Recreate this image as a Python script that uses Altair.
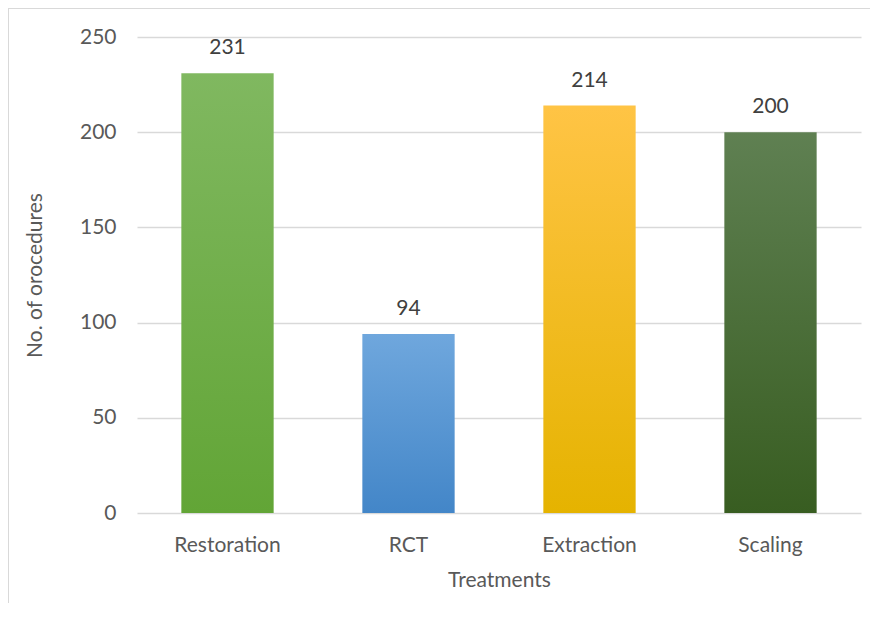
import altair as alt
import pandas as pd

categories = ["Restoration", "RCT", "Extraction", "Scaling"]
values = [231, 94, 214, 200]
top_colors = ["#80b860", "#6fa7dd", "#ffc445", "#5f8052"]
bottom_colors = ["#62a536", "#4386c8", "#e5b300", "#385d21"]

df = pd.DataFrame({"Treatment": categories, "count": values})

FONT = "Lato"
FS = 21

x_enc = alt.X("Treatment:N", sort=categories,
              scale=alt.Scale(paddingInner=0.49, paddingOuter=0.245),
              axis=alt.Axis(title="Treatments", labelAngle=0, labelFont=FONT,
                            labelFontSize=FS, labelColor="#595959", labelPadding=21,
                            titleFont=FONT, titleFontSize=FS, titleColor="#595959",
                            titleFontWeight="normal", titlePadding=14,
                            domain=False, ticks=False, grid=False))
y_enc = alt.Y("count:Q", scale=alt.Scale(domain=[0, 250], nice=False),
              axis=alt.Axis(title="No. of orocedures", values=[0, 50, 100, 150, 200, 250],
                            labelFont=FONT, labelFontSize=FS, labelColor="#595959",
                            labelPadding=21, titleFont=FONT, titleFontSize=FS,
                            titleColor="#595959", titleFontWeight="normal", titlePadding=34,
                            domain=False, ticks=False, gridColor="#d9d9d9", gridWidth=1.3))

base = alt.Chart(df)
layers = []
for i, c in enumerate(categories):
    grad = alt.Gradient(gradient="linear", x1=0, y1=0, x2=0, y2=1,
                        stops=[alt.GradientStop(color=top_colors[i], offset=0),
                               alt.GradientStop(color=bottom_colors[i], offset=1)])
    layers.append(
        base.transform_filter(alt.datum.Treatment == c)
        .mark_bar(color=grad)
        .encode(x=x_enc, y=y_enc)
    )

labels = base.mark_text(dy=-15, baseline="bottom", font=FONT, fontSize=FS,
                        color="#404040").encode(
    x=x_enc, y=y_enc, text="count:Q")

border_left = alt.Chart(df).mark_rule(color="#d9d9d9", strokeWidth=1.5).encode(
    x=alt.value(-129), y=alt.value(-29), y2=alt.value(570))
border_top = alt.Chart(df).mark_rule(color="#d9d9d9", strokeWidth=1.5).encode(
    x=alt.value(-129), x2=alt.value(740), y=alt.value(-29))

chart = alt.layer(*layers, labels, border_left, border_top).properties(
    width=724, height=476,
    background="white",
    padding={"left": 129, "top": 29, "right": 9, "bottom": 90},
    autosize=alt.AutoSizeParams(type="none"),
).configure_view(strokeWidth=0, stroke="transparent")

chart.save("out.html", embed_options={"renderer": "svg", "actions": False})
